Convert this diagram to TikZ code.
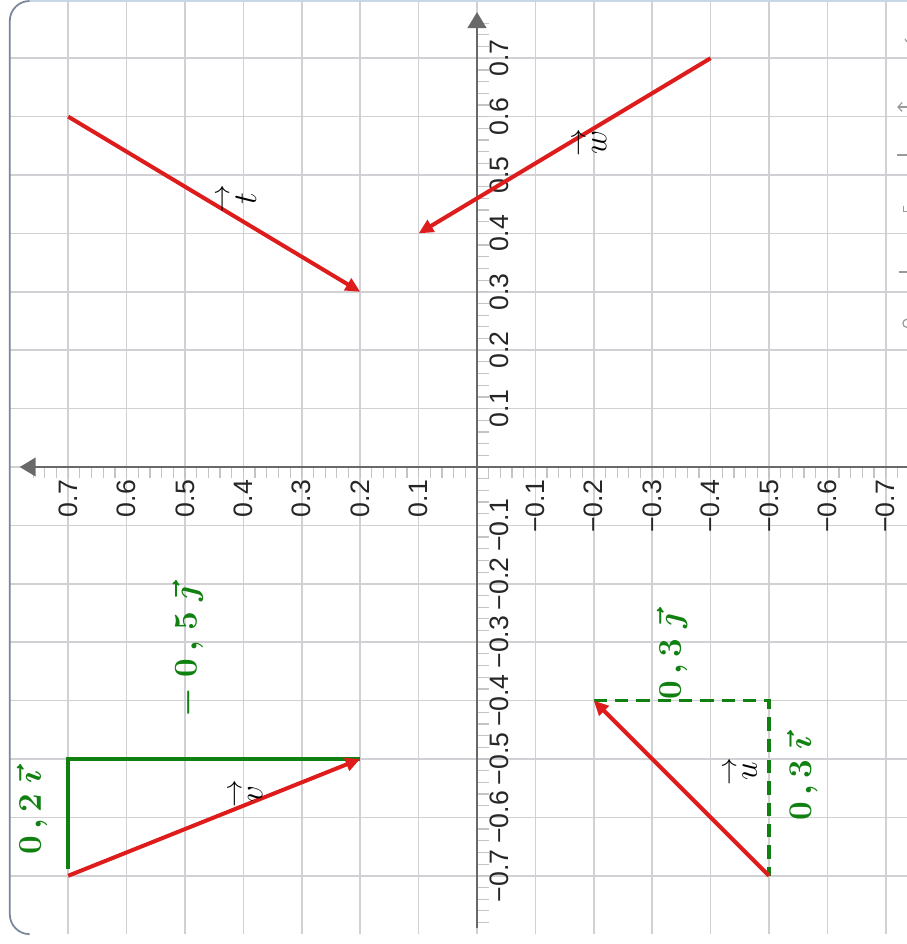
\documentclass[tikz,border=0pt]{standalone}
\usepackage{amsmath}
\usepackage{fontspec}
\newfontfamily\axfont{Liberation Sans}
\usetikzlibrary{arrows.meta}
\definecolor{gridc}{RGB}{208,208,213}
\definecolor{axc}{RGB}{105,105,105}
\definecolor{tickc}{RGB}{195,195,200}
\definecolor{vred}{RGB}{222,28,28}
\definecolor{hgreen}{RGB}{16,128,16}
\definecolor{bordc}{RGB}{120,135,152}
\definecolor{bordlight}{RGB}{200,215,230}
\tikzset{
  gridline/.style={draw=gridc, line width=1.1pt},
  axisline/.style={draw=axc, line width=1.6pt},
  axtip/.style={-{Triangle[length=12pt,width=14pt]}},
  minortick/.style={draw=tickc, line width=0.9pt},
  vecred/.style={draw=vred, line width=3pt, -{Triangle[length=11pt,width=10pt]}},
  greenline/.style={draw=hgreen, line width=2.6pt},
  greendash/.style={draw=hgreen, line width=2.6pt, dash pattern=on 10pt off 6pt},
  axlab/.style={rotate=90, inner sep=0pt, font=\axfont\fontsize{20}{20}\selectfont, text=black!85},
  veclab/.style={rotate=90, inner sep=0pt, font=\fontsize{29}{29}\selectfont},
  hand/.style={rotate=90, inner sep=0pt, text=hgreen, font=\fontsize{32}{32}\selectfont\boldmath},
  tbar/.style={draw=gray!80, line width=0.9pt},
}
\begin{document}
\begin{tikzpicture}[x=43.8pt,y=43.8pt]
\useasboundingbox (-8.168,-8.168) rectangle (7.363,7.997);
\fill[white] (-8.168,-8.168) rectangle (7.363,7.997);

% grid
\foreach \i in {-7,...,7} \draw[gridline] (\i,8) -- (\i,-8);
\foreach \j in {-7,...,7} \draw[gridline] (-8,\j) -- (7.363,\j);

% border
\draw[draw=bordlight, line width=1.1pt] (7.363,7.98) -- (-7.66,7.98);
\draw[draw=bordc, line width=1.3pt] (-7.66,7.98) arc[start angle=90,end angle=180,radius=0.34]
  -- (-8,-7.66) arc[start angle=180,end angle=270,radius=0.34];

% minor ticks
\foreach \k in {-38,...,36} \draw[minortick] (\k*0.2,0) -- ++(0,-8pt);
\foreach \k in {-39,...,38} \draw[minortick] (0,\k*0.2) -- ++(9pt,0);

% axes
\coordinate (ytop) at (0,7.79);
\coordinate (ybot) at (0,-7.9);
\coordinate (xleft) at (-7.83,0);
\coordinate (xright) at (7.363,0);
\draw[axisline,axtip] (ybot) -- (ytop);
\draw[axisline,axtip] (xright) -- (xleft);

% axis labels
\foreach \i in {1,...,7} {
  \node[axlab, anchor=east] (hp\i) at (-\i,-0.22) {0.\i};
  \node[axlab, anchor=east] (hn\i) at (\i,-0.22) {−0.\i};
  \node[axlab, anchor=north] (vp\i) at (0.21,\i) {0.\i};
  \node[axlab, anchor=north] (vn\i) at (0.21,-\i) {−0.\i};
}

% vector end points
\coordinate (t0) at (-7,6);   \coordinate (t1) at (-2,3);
\coordinate (w0) at (4,7);    \coordinate (w1) at (-1,4);
\coordinate (v0) at (-7,-7);  \coordinate (v1) at (-2,-5);
\coordinate (u0) at (5,-7);   \coordinate (u1) at (2,-4);
\coordinate (vc) at (-7,-5);  \coordinate (vb) at (-7,-6.88);
\coordinate (uc) at (5,-4);

% green construction lines
\draw[greenline] (vb) -- (vc) -- (v1);
\draw[greendash] (u1) -- (uc) -- (u0);

% red vectors
\draw[vecred] (t0) -- (t1);
\draw[vecred] (w0) -- (w1);
\draw[vecred] (v0) -- (v1);
\draw[vecred] (u0) -- (u1);

% vector labels
\node[veclab] (lt) at (-4.13,4.59) {$\overset{\rightarrow}{t}$};
\node[veclab] (lw) at (1.92,5.55) {$\overset{\rightarrow}{w}$};
\node[veclab] (lv) at (-3.97,-5.60) {$\overset{\rightarrow}{v}$};
\node[veclab] (lu) at (4.50,-5.21) {$\overset{\rightarrow}{u}$};

% handwritten green labels
\node[hand] (g1) at (-4.95,-3.17) {$-\;0\,{,}\;5\;\vec{\jmath}$};
\node[hand] (g2) at (-7.62,-5.91) {$0\,{,}\,2\;\vec{\imath}$};
\node[hand] (g3) at (3.34,-3.25) {$0\,{,}\,3\;\vec{\jmath}$};
\node[hand] (g4) at (5.57,-5.33) {$0\,{,}\,3\;\vec{\imath}$};

% cut-off toolbar marks at the right edge
\draw[tbar] (7.33,7.33) -- (7.36,7.28);
\draw[tbar] (7.363,6.164) -- (7.21,6.164);
\draw[tbar] (7.28,6.24) -- (7.21,6.164) -- (7.28,6.09);
\draw[tbar] (7.19,5.342) -- (7.363,5.342);
\draw[tbar] (7.31,4.47) -- (7.31,4.38) -- (7.363,4.38);
\draw[tbar] (7.22,3.339) -- (7.363,3.339);
\draw[tbar] (7.363,2.53) arc[start angle=90,end angle=270,radius=0.07];
\end{tikzpicture}
\end{document}
